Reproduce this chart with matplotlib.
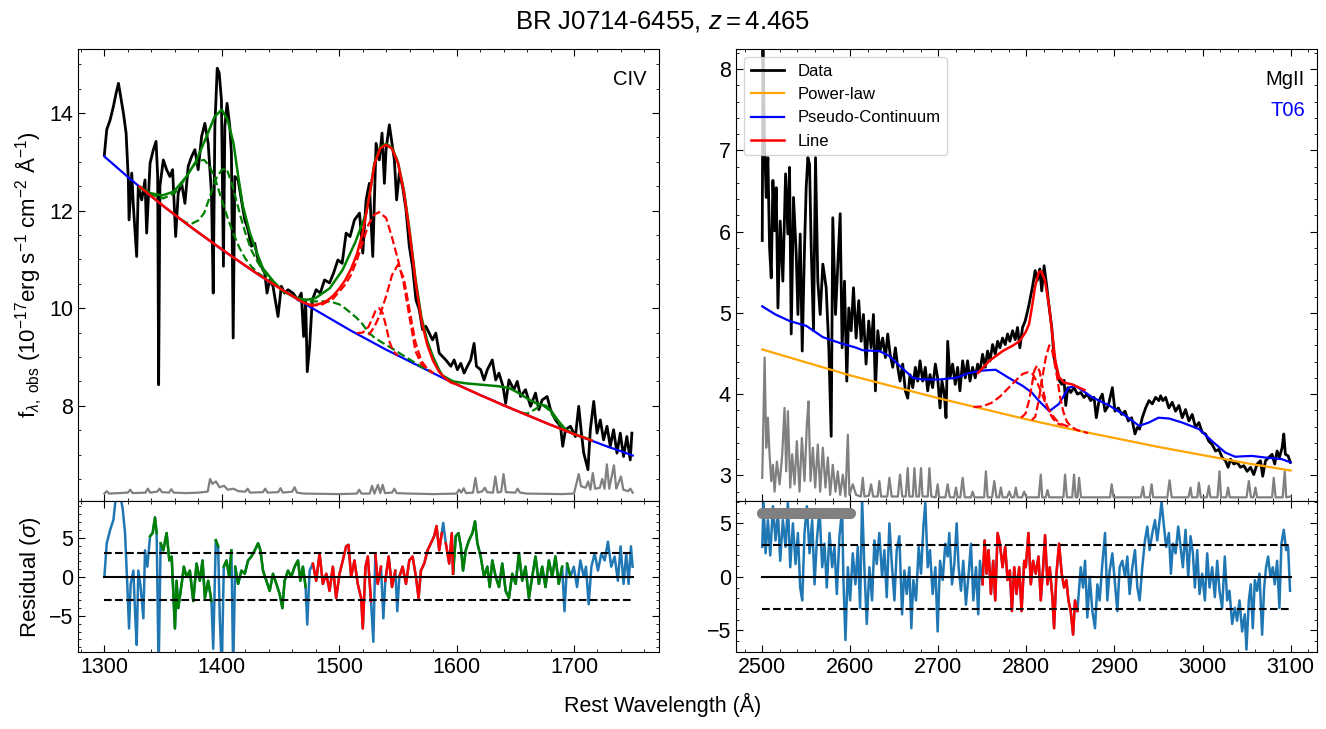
import numpy as np
import matplotlib
matplotlib.use('Agg')
import matplotlib.pyplot as plt

plt.rcParams['font.family'] = ['Liberation Sans', 'DejaVu Sans']
plt.rcParams['mathtext.fontset'] = 'custom'
plt.rcParams['mathtext.rm'] = 'Liberation Sans'
plt.rcParams['mathtext.it'] = 'Liberation Sans:italic'
plt.rcParams['mathtext.bf'] = 'Liberation Sans:bold'
plt.rcParams['xtick.direction'] = 'in'
plt.rcParams['ytick.direction'] = 'in'
plt.rcParams['xtick.top'] = True
plt.rcParams['ytick.right'] = True
plt.rcParams['xtick.minor.visible'] = True
plt.rcParams['ytick.minor.visible'] = True
plt.rcParams['xtick.major.size'] = 5
plt.rcParams['ytick.major.size'] = 5
plt.rcParams['xtick.minor.size'] = 2.5
plt.rcParams['ytick.minor.size'] = 2.5
plt.rcParams['xtick.labelsize'] = 15.5
plt.rcParams['ytick.labelsize'] = 15.5

#---------------- CIV window: data ----------------
civ_wave = [1300.0, 1302.0, 1304.9, 1307.7, 1310.0, 1312.0, 1313.9, 1316.2, 1318.5, 1320.4, 1321.0, 1323.3, 1324.7, 1327.5,
            1328.9, 1331.8, 1334.6, 1336.0, 1338.9, 1341.7, 1344.0, 1345.4, 1346.2, 1347.3, 1350.2, 1353.0, 1355.8, 1358.1,
            1360.7, 1362.9, 1365.8, 1368.6, 1371.4, 1374.3, 1377.1, 1379.9, 1382.8, 1385.6, 1388.4, 1391.2, 1392.7, 1394.1,
            1396.1, 1397.8, 1399.7, 1401.4, 1402.6, 1404.5, 1406.8, 1408.2, 1409.7, 1411.1, 1413.9, 1416.7, 1419.6, 1422.4,
            1425.2, 1428.1, 1430.9, 1433.7, 1436.6, 1438.5, 1440.8, 1443.6, 1447.9, 1450.7, 1453.5, 1456.4, 1460.6, 1464.9,
            1467.7, 1469.7, 1471.4, 1472.8, 1474.8, 1477.1, 1480.4, 1483.9, 1487.5, 1491.8, 1495.2, 1498.9, 1502.5, 1505.9,
            1509.3, 1513.0, 1517.3, 1520.1, 1522.9, 1525.7, 1528.6, 1531.4, 1534.2, 1536.5, 1538.5, 1539.9, 1542.7, 1545.0,
            1547.0, 1548.9, 1551.2, 1554.0, 1556.9, 1559.7, 1562.5, 1565.4, 1568.2, 1571.0, 1573.8, 1576.7, 1579.5, 1582.3,
            1585.2, 1588.0, 1590.8, 1595.1, 1597.9, 1600.7, 1603.6, 1606.4, 1609.2, 1612.0, 1614.9, 1616.9, 1620.5, 1623.4,
            1626.2, 1630.4, 1633.3, 1636.1, 1639.5, 1641.8, 1644.6, 1648.8, 1651.7, 1654.5, 1658.7, 1663.0, 1667.2, 1670.1,
            1672.9, 1677.1, 1680.0, 1684.2, 1688.5, 1690.4, 1692.7, 1697.0, 1701.2, 1704.0, 1706.3, 1708.3, 1711.9, 1713.9,
            1716.8, 1719.6, 1722.4, 1725.2, 1728.1, 1730.9, 1733.7, 1736.6, 1739.4, 1742.2, 1745.0, 1747.9, 1749.3]
civ_flux = [13.15, 13.66, 13.86, 14.14, 14.41, 14.61, 14.34, 14.0, 13.59, 12.63, 11.81, 12.77, 12.09, 11.06,
            12.5, 12.22, 12.63, 11.54, 12.97, 13.25, 13.42, 12.70, 8.43, 12.5, 13.04, 12.84, 12.7, 12.84,
            11.47, 12.36, 12.56, 12.15, 12.91, 13.11, 13.25, 12.84, 13.52, 13.79, 13.38, 12.36, 10.31, 13.73,
            14.92, 14.82, 14.27, 10.86, 13.73, 14.2, 13.73, 13.18, 9.39, 12.70, 12.63, 12.22, 11.81, 11.61,
            11.27, 11.33, 10.99, 10.86, 10.72, 10.31, 10.58, 10.45, 9.83, 10.45, 10.31, 10.38, 10.31, 10.17,
            10.31, 9.42, 10.17, 8.70, 9.22, 10.17, 10.38, 10.31, 10.58, 10.52, 10.72, 10.99, 10.92, 11.54,
            11.47, 11.81, 11.95, 11.13, 12.22, 12.56, 11.06, 13.38, 13.04, 13.59, 12.56, 13.25, 13.76, 13.38,
            13.04, 12.22, 12.77, 12.49, 12.02, 11.27, 10.85, 10.17, 9.97, 9.56, 9.63, 9.49, 9.35, 9.49,
            9.08, 9.01, 8.94, 8.81, 8.94, 8.74, 8.87, 8.67, 8.81, 8.94, 9.28, 8.81, 8.74, 8.53,
            8.74, 8.94, 8.53, 8.67, 8.4, 8.05, 8.53, 8.33, 8.5, 8.19, 8.33, 7.99, 8.26, 7.92,
            8.12, 8.19, 7.92, 7.71, 7.58, 7.17, 7.51, 7.58, 7.37, 7.99, 7.44, 7.03, 6.69, 7.51,
            8.09, 7.44, 7.71, 7.3, 7.58, 7.17, 7.51, 7.03, 7.44, 6.96, 7.37, 6.89, 7.44]

civ_err_wave = [1300, 1302, 1304, 1320, 1322, 1324, 1335, 1337, 1339, 1345, 1347, 1349, 1355, 1357, 1359, 1370, 1380,
                1388, 1390, 1392, 1395, 1398, 1402, 1405, 1410, 1414, 1420, 1422, 1424, 1435, 1437, 1439, 1448, 1450,
                1452, 1460, 1462, 1464, 1470, 1500, 1515, 1517, 1519, 1526, 1528, 1530, 1533, 1535, 1537, 1539, 1545,
                1547, 1549, 1560, 1580, 1600, 1602, 1604, 1606, 1608, 1614, 1616, 1618, 1622, 1624, 1626, 1631, 1633,
                1635, 1638, 1640, 1642, 1650, 1652, 1654, 1660, 1690, 1700, 1702, 1704, 1706, 1710, 1712, 1714, 1716,
                1718, 1722, 1724, 1726, 1728, 1730, 1734, 1736, 1740, 1742, 1746, 1748, 1750]
civ_err = [6.20, 6.25, 6.20, 6.22, 6.28, 6.21, 6.22, 6.30, 6.22, 6.24, 6.30, 6.23, 6.22, 6.29, 6.22, 6.21, 6.22,
           6.24, 6.50, 6.40, 6.45, 6.33, 6.36, 6.28, 6.30, 6.25, 6.24, 6.30, 6.22, 6.23, 6.30, 6.22, 6.23, 6.31,
           6.22, 6.24, 6.33, 6.22, 6.20, 6.19, 6.20, 6.28, 6.20, 6.20, 6.36, 6.20, 6.38, 6.21, 6.38, 6.21, 6.22,
           6.30, 6.21, 6.20, 6.19, 6.20, 6.28, 6.22, 6.31, 6.21, 6.22, 6.52, 6.22, 6.25, 6.32, 6.23, 6.22, 6.55,
           6.22, 6.24, 6.60, 6.23, 6.22, 6.30, 6.22, 6.20, 6.19, 6.20, 6.40, 6.60, 6.35, 6.32, 6.45, 6.28, 6.62,
           6.30, 6.32, 6.50, 6.30, 6.80, 6.30, 6.78, 6.30, 6.55, 6.28, 6.25, 6.30, 6.22]

#---------------- CIV window: model ----------------
civ_cont_wave = list(range(1300, 1751, 10))
civ_cont = [13.11, 12.90, 12.69, 12.49, 12.29, 12.10, 11.91, 11.73, 11.55, 11.38, 11.20, 11.04, 10.87, 10.71,
            10.55, 10.40, 10.25, 10.10, 9.96, 9.82, 9.68, 9.54, 9.41, 9.28, 9.15, 9.03, 8.91, 8.79, 8.67, 8.55,
            8.44, 8.33, 8.22, 8.12, 8.01, 7.91, 7.81, 7.71, 7.61, 7.52, 7.42, 7.33, 7.24, 7.15, 7.07, 6.98]

civ_line_wave = [1330, 1350, 1370, 1390, 1410, 1430, 1450, 1465, 1470, 1475, 1480, 1485, 1490, 1495, 1500, 1505,
                 1510, 1515, 1520, 1525, 1530, 1535, 1540, 1545, 1550, 1555, 1560, 1565, 1570, 1575, 1580, 1585,
                 1590, 1595, 1600, 1620, 1640, 1660, 1680, 1700, 1715]
civ_line = [12.49, 12.10, 11.73, 11.38, 11.04, 10.71, 10.40, 10.18, 10.11, 10.07, 10.07, 10.10, 10.16, 10.26, 10.40,
            10.57, 10.80, 11.10, 11.55, 12.20, 12.95, 13.28, 13.35, 13.27, 12.98, 12.40, 11.55, 10.55, 9.75, 9.25,
            8.92, 8.70, 8.57, 8.48, 8.44, 8.22, 8.01, 7.81, 7.61, 7.42, 7.29]

civ_all_wave = [1330, 1339, 1349, 1359, 1370, 1378, 1387, 1394, 1400, 1405, 1410, 1414, 1418, 1424, 1430, 1435,
                1444, 1452, 1464, 1472, 1480, 1492, 1503, 1514, 1523, 1527, 1530, 1535, 1540, 1545, 1550, 1555,
                1560, 1565, 1570, 1575, 1580, 1585, 1588, 1597, 1608, 1622, 1636, 1645, 1653, 1662, 1669, 1676,
                1681, 1687, 1693, 1701, 1710, 1715]
civ_all = [12.46, 12.36, 12.31, 12.39, 12.70, 13.01, 13.52, 13.93, 14.07, 13.86, 13.38, 12.70, 12.09, 11.54, 11.13,
           10.82, 10.55, 10.35, 10.21, 10.17, 10.21, 10.41, 10.79, 11.37, 11.95, 12.50, 12.98, 13.30, 13.37, 13.29,
           13.00, 12.43, 11.59, 10.60, 9.82, 9.33, 9.00, 8.74, 8.62, 8.50, 8.46, 8.43, 8.40, 8.36, 8.26, 8.12,
           8.04, 8.00, 7.88, 7.68, 7.51, 7.41, 7.34, 7.29]

# other-line components (green dashed)
siiv1_wave = [1330, 1340, 1350, 1360, 1365, 1370, 1375, 1380, 1385, 1390, 1395, 1400, 1405, 1410, 1415, 1420,
              1425, 1430, 1440]
siiv1 = [12.50, 12.33, 12.25, 12.36, 12.52, 12.70, 12.90, 13.02, 13.04, 12.90, 12.60, 12.22, 11.85, 11.52, 11.24,
         11.02, 10.86, 10.74, 10.56]
siiv2_wave = [1365, 1370, 1375, 1380, 1385, 1390, 1395, 1400, 1404, 1408, 1412, 1416, 1420, 1425, 1430, 1435,
              1440, 1450]
siiv2 = [11.82, 11.75, 11.74, 11.80, 11.95, 12.30, 12.65, 12.84, 12.86, 12.60, 12.25, 11.88, 11.55, 11.20, 10.97,
         10.77, 10.62, 10.41]
nv_wave = [1465, 1475, 1485, 1492, 1500, 1505, 1510, 1515, 1520, 1525, 1530, 1535, 1542, 1550, 1560, 1570, 1580]
nv = [10.18, 10.14, 10.14, 10.14, 10.08, 10.00, 9.90, 9.80, 9.67, 9.50, 9.40, 9.32, 9.22, 9.10, 8.95, 8.80, 8.68]
heii_wave = [1655, 1660, 1665, 1670, 1674, 1678, 1682, 1686, 1690, 1695, 1700]
heii = [7.86, 7.84, 7.90, 7.98, 8.00, 7.93, 7.80, 7.68, 7.56, 7.48, 7.42]

# CIV components (red dashed)
civ_br_wave = [1475, 1485, 1495, 1505, 1510, 1515, 1520, 1525, 1530, 1534, 1540, 1545, 1550, 1555, 1560, 1565,
               1570, 1575, 1580]
civ_br = [10.05, 10.07, 10.20, 10.48, 10.68, 10.98, 11.35, 11.72, 11.92, 11.97, 11.85, 11.45, 11.00, 10.50, 9.80,
          9.12, 8.85, 8.76, 8.67]
civ_n1_wave = [1515, 1520, 1525, 1528, 1531, 1534, 1537, 1540, 1543, 1546, 1550]
civ_n1 = [9.49, 9.50, 9.62, 9.78, 9.95, 10.00, 9.90, 9.62, 9.30, 9.12, 9.03]
civ_n2_wave = [1525, 1530, 1535, 1540, 1545, 1550, 1555, 1560, 1565, 1570, 1575, 1580]
civ_n2 = [9.45, 9.62, 9.88, 10.25, 10.68, 10.89, 10.62, 9.95, 9.30, 8.92, 8.76, 8.67]

civ_res_wave = [1300.0, 1302.0, 1304.9, 1307.7, 1310.0, 1313.4, 1315.6, 1317.6, 1319.6, 1321.0, 1322.4, 1324.7,
                1326.1, 1327.5, 1328.9, 1330.9, 1333.2, 1334.6, 1336.6, 1338.9, 1341.1, 1343.1, 1344.5, 1346.2,
                1347.9, 1350.2, 1353.0, 1355.3, 1357.3, 1360.1, 1361.5, 1362.9, 1365.8, 1367.7, 1370.0, 1372.8,
                1375.7, 1378.5, 1381.3, 1383.6, 1385.6, 1388.4, 1391.2, 1392.7, 1394.9, 1396.9, 1398.3, 1400.0,
                1401.7, 1404.0, 1406.3, 1408.2, 1409.7, 1411.4, 1413.9, 1416.7, 1419.6, 1422.4, 1425.2, 1428.1,
                1430.9, 1432.9, 1435.1, 1438.0, 1440.8, 1443.6, 1446.5, 1449.3, 1451.6, 1453.5, 1456.4, 1459.2,
                1462.0, 1464.9, 1466.9, 1469.1, 1471.4, 1472.8, 1474.8, 1477.6, 1480.4, 1483.3, 1486.1, 1489.0,
                1491.8, 1494.6, 1497.4, 1500.3, 1503.1, 1505.9, 1507.9, 1510.2, 1513.0, 1515.8, 1518.7, 1520.1,
                1522.4, 1524.4, 1527.1, 1529.1, 1530.8, 1532.8, 1535.6, 1537.6, 1539.3, 1542.1, 1545.0, 1547.8,
                1549.5, 1551.2, 1554.0, 1556.9, 1559.7, 1562.5, 1565.4, 1567.6, 1569.6, 1572.4, 1575.3, 1578.1,
                1580.9, 1582.9, 1585.2, 1587.4, 1588.6, 1590.8, 1593.7, 1595.9, 1597.0, 1599.3, 1601.6, 1603.6,
                1605.5, 1607.8, 1610.6, 1613.5, 1615.7, 1617.7, 1620.5, 1623.4, 1626.2, 1628.2, 1630.4, 1633.3,
                1636.1, 1638.9, 1641.8, 1644.6, 1647.4, 1650.3, 1653.1, 1655.9, 1658.7, 1661.6, 1664.4, 1667.2,
                1670.1, 1672.9, 1675.7, 1678.6, 1681.4, 1684.2, 1687.0, 1689.9, 1691.9, 1694.1, 1697.0, 1699.8,
                1702.6, 1705.4, 1708.3, 1710.2, 1712.5, 1714.8, 1717.6, 1720.4, 1723.3, 1726.1, 1728.9, 1731.7,
                1734.6, 1737.4, 1739.7, 1742.2, 1744.5, 1746.5, 1748.5, 1749.9]
civ_res = [0.0, 4.3, 6.0, 7.3, 10.5, 10.5, 8.7, 5.6, -1.3, -6.6, -0.9, 0.8,
           -4.4, -8.7, 0.8, -1.3, -5.3, 3.4, 1.3, 5.2, 5.6, 7.6, 5.6, -12.0,
           4.3, 3.4, 5.6, 2.1, 2.6, -6.6, -0.5, -4.0, -0.9, 1.3, 0.0, 0.8,
           -3.1, 1.7, -0.5, 2.1, -2.7, -0.5, -3.1, -9.2, 4.7, 3.9, -5.3, -12.0,
           1.3, 2.1, 0.0, 3.4, -12.0, 1.3, -0.9, 0.8, 0.4, 2.1, 2.6, 3.4,
           4.3, 3.4, 0.8, -0.5, -1.8, 0.4, -0.9, -2.2, -4.0, -0.5, 0.8, 0.0,
           1.3, 2.1, -0.5, 1.3, -1.3, -6.1, 0.8, 1.7, -0.5, 3.0, -0.9, 0.4,
           -1.8, 1.3, -2.7, 0.4, 2.1, 3.9, 4.1, 0.0, 2.1, -0.9, -2.7, -6.6,
           1.3, 2.6, -3.1, -8.3, 3.0, -0.9, 1.3, -5.3, -0.5, 2.6, -1.3, 0.8,
           -4.4, 0.0, 1.3, -0.9, 2.1, 2.6, 0.0, -2.7, 0.8, 1.7, 3.4, 4.3,
           5.2, 6.5, 3.4, 5.6, 6.9, 4.3, 1.7, 5.6, 0.4, 5.2, 5.6, 3.9,
           0.8, 3.4, 4.7, 5.6, 7.1, 4.3, 2.6, 0.0, 1.3, -1.3, 2.1, 0.0,
           -1.3, 1.7, -1.8, -2.7, 0.4, -0.9, 3.0, -0.5, 1.3, -2.7, 0.0, 2.6,
           -0.9, 1.3, -1.3, 2.1, 0.0, 2.6, -0.9, 1.3, -4.4, 1.7, 0.0, 1.3,
           -1.3, 2.1, 0.0, 1.3, -3.5, 1.3, 3.0, 0.8, 3.0, 2.1, 4.5, 1.3,
           2.6, -0.5, 3.9, -0.9, 3.0, -0.9, 3.9, 1.3]
civ_green_win = [(1337, 1475), (1597, 1697)]
civ_red_win = [(1475, 1597)]
civ_res_skip = [1346.2, 1392.7, 1398.3, 1400.0, 1409.7, 1472.8, 1529.1, 1537.6, 1549.5, 1588.6, 1691.9]

#---------------- MgII window: data ----------------
mg_wave = [2500.0, 2500.8, 2502.7, 2504.5, 2506.4, 2508.3, 2510.2, 2512.1, 2514.0, 2515.9, 2517.8, 2520.4, 2523.4,
           2526.5, 2529.1, 2531.0, 2532.9, 2535.5, 2538.6, 2540.5, 2543.1, 2545.4, 2548.0, 2549.9, 2551.8, 2553.7,
           2555.6, 2558.2, 2560.5, 2563.1, 2565.8, 2568.8, 2572.6, 2575.6, 2578.3, 2580.1, 2583.2, 2585.8, 2588.5,
           2590.7, 2593.4, 2596.0, 2598.3, 2601.0, 2603.6, 2606.6, 2609.6, 2612.3, 2614.9, 2617.9, 2620.9, 2623.6,
           2626.3, 2628.5, 2631.2, 2633.8, 2636.8, 2639.9, 2642.5, 2645.2, 2648.2, 2651.2, 2653.9, 2656.5, 2659.5,
           2662.5, 2665.2, 2667.8, 2670.9, 2673.9, 2676.5, 2679.2, 2682.2, 2685.2, 2687.9, 2690.5, 2693.5, 2696.6,
           2699.2, 2701.9, 2704.1, 2706.8, 2708.7, 2710.6, 2713.2, 2716.2, 2719.2, 2721.9, 2724.5, 2727.6, 2730.6,
           2733.2, 2735.9, 2738.9, 2741.9, 2744.6, 2747.2, 2750.2, 2753.3, 2755.9, 2758.6, 2761.6, 2764.6, 2767.3,
           2769.9, 2772.9, 2775.9, 2778.6, 2781.2, 2784.3, 2787.3, 2789.9, 2792.6, 2795.6, 2798.6, 2801.3, 2803.1,
           2806.9, 2809.9, 2812.5, 2815.2, 2817.4, 2820.1, 2822.7, 2825.8, 2828.8, 2831.4, 2834.1, 2837.1, 2840.1,
           2842.8, 2844.7, 2847.0, 2850.3, 2854.1, 2857.9, 2861.7, 2865.4, 2869.2, 2873.0, 2876.8, 2879.4, 2882.5,
           2886.2, 2889.3, 2893.0, 2897.6, 2900.6, 2904.4, 2908.2, 2912.0, 2915.7, 2919.5, 2923.3, 2926.0, 2928.6,
           2931.6, 2935.4, 2939.2, 2943.0, 2946.7, 2950.5, 2952.4, 2955.0, 2958.1, 2961.8, 2965.6, 2969.4, 2973.2,
           2977.0, 2980.7, 2984.5, 2988.3, 2992.1, 2995.9, 2999.6, 3003.4, 3007.2, 3011.0, 3014.8, 3018.5, 3022.3,
           3026.1, 3029.1, 3031.8, 3035.6, 3039.3, 3043.1, 3046.9, 3050.7, 3054.5, 3058.2, 3062.0, 3065.8, 3068.4,
           3071.5, 3075.2, 3079.0, 3082.0, 3084.7, 3087.3, 3090.4, 3092.3, 3094.1, 3097.2, 3099.8]
mg_flux = [5.89, 8.23, 7.04, 6.42, 6.91, 5.80, 5.43, 6.63, 6.01, 6.54, 5.06, 6.13, 5.39,
           6.71, 5.97, 6.79, 4.74, 6.42, 5.72, 4.98, 5.97, 4.53, 5.80, 6.54, 6.91, 6.83,
           5.80, 4.78, 6.91, 5.39, 4.98, 5.60, 5.31, 4.57, 3.48, 6.17, 4.98, 5.60, 6.22,
           4.57, 5.39, 4.16, 5.06, 4.78, 5.31, 4.69, 5.15, 4.65, 4.98, 4.37, 4.90, 4.57,
           4.98, 4.04, 4.78, 4.53, 4.69, 4.45, 4.74, 4.49, 4.33, 4.57, 4.33, 4.16, 4.37,
           4.04, 3.95, 4.24, 4.08, 4.33, 4.16, 4.41, 4.16, 4.33, 4.04, 4.24, 4.08, 4.37,
           4.20, 3.83, 4.16, 4.00, 3.71, 4.65, 4.20, 4.37, 4.12, 4.33, 4.04, 4.41, 4.20,
           4.41, 4.16, 4.33, 4.20, 4.37, 4.28, 4.49, 4.33, 4.53, 4.41, 4.61, 4.49, 4.65,
           4.57, 4.69, 4.61, 4.74, 4.65, 4.78, 4.67, 4.82, 4.57, 4.82, 4.90, 5.02, 5.11,
           5.32, 5.52, 5.40, 5.54, 5.27, 5.58, 5.36, 5.07, 4.82, 4.45, 4.33, 4.17, 4.12,
           4.17, 3.86, 4.08, 4.02, 4.08, 4.00, 4.02, 3.96, 4.00, 3.92, 3.96, 3.71, 3.92,
           4.00, 3.79, 3.86, 4.08, 3.79, 3.83, 3.75, 3.79, 3.67, 3.71, 3.51, 3.59, 3.57,
           3.71, 3.83, 3.92, 3.88, 3.96, 3.92, 3.98, 3.92, 3.96, 3.83, 3.90, 3.79, 3.86,
           3.71, 3.81, 3.67, 3.75, 3.59, 3.65, 3.53, 3.51, 3.42, 3.38, 3.30, 3.32, 3.22,
           3.18, 3.10, 3.20, 3.14, 3.16, 3.10, 3.12, 3.05, 3.10, 3.01, 3.14, 3.18, 2.99,
           3.18, 3.22, 3.26, 3.14, 3.30, 3.22, 3.34, 3.51, 3.26, 3.24, 3.16]

mg_err_wave = [2500, 2502.7, 2504.5, 2506.4, 2508.3, 2510.2, 2512.1, 2514.0, 2516.6, 2519.7, 2522.7, 2525.3, 2527.2,
               2529.1, 2531.8, 2534.0, 2536.7, 2539.3, 2542.3, 2545.0, 2548.0, 2550.7, 2552.5, 2554.8, 2557.5, 2560.1,
               2563.1, 2565.8, 2568.8, 2571.8, 2574.5, 2577.1, 2580.1, 2583.2, 2585.8, 2588.5, 2591.5, 2594.5, 2597.2,
               2599.0, 2602.8, 2606.6, 2612, 2614.2, 2616, 2621, 2623.6, 2626, 2631, 2633.0, 2635, 2642, 2644.4, 2647,
               2654, 2656.5, 2659, 2663, 2665.2, 2667, 2671, 2672.8, 2675, 2678, 2680.3, 2682, 2688, 2689.8, 2692,
               2697, 2699.2, 2701, 2708, 2710.6, 2713, 2718, 2720, 2722, 2725, 2727.6, 2730, 2737, 2738.9, 2741, 2752,
               2754, 2756, 2761, 2763.5, 2766, 2769, 2771, 2773, 2778, 2780.5, 2783, 2786, 2788, 2790, 2795, 2797.5,
               2800, 2814, 2816.3, 2818, 2822, 2824, 2826, 2842, 2843.9, 2846, 2852, 2854.1, 2856, 2858, 2859.8, 2862,
               2895, 2896.8, 2899, 2930, 2932.4, 2934, 2940, 2942.2, 2944, 2960, 2962.6, 2965, 2984, 2986.4, 2988,
               2994, 2995.9, 2998, 3005, 3007.2, 3009, 3017, 3019.3, 3021, 3027, 3029.1, 3031, 3050, 3052.6, 3055,
               3058, 3060.1, 3062, 3079, 3080.9, 3083, 3091, 3093.4, 3095, 3100]
mg_err = [2.97, 4.45, 3.34, 3.71, 3.26, 2.93, 3.13, 2.80, 3.17, 2.89, 3.26, 3.83, 3.05,
          3.79, 2.85, 3.26, 2.89, 3.42, 2.80, 3.46, 2.93, 3.63, 3.91, 2.93, 3.34, 2.85,
          3.38, 2.80, 3.34, 2.85, 3.22, 2.76, 3.13, 2.80, 3.05, 2.76, 3.01, 2.74, 3.50,
          2.76, 2.89, 2.76, 2.74, 2.97, 2.74, 2.75, 2.89, 2.74, 2.74, 2.93, 2.74, 2.74, 2.97, 2.74,
          2.74, 3.01, 2.74, 2.74, 3.09, 2.74, 2.74, 3.09, 2.74, 2.74, 3.09, 2.74, 2.74, 3.09, 2.74,
          2.73, 2.89, 2.73, 2.73, 2.89, 2.73, 2.73, 2.85, 2.73, 2.73, 2.97, 2.73, 2.73, 2.80, 2.73, 2.73,
          3.05, 2.73, 2.73, 2.93, 2.73, 2.73, 2.85, 2.73, 2.73, 2.80, 2.73, 2.73, 2.85, 2.73, 2.73, 2.80,
          2.73, 2.73, 3.01, 2.73, 2.73, 2.82, 2.73, 2.73, 3.01, 2.73, 2.73, 3.01, 2.73, 2.73, 2.97, 2.73,
          2.73, 2.89, 2.73, 2.73, 2.86, 2.73, 2.73, 2.89, 2.73, 2.73, 2.94, 2.73, 2.73, 2.85, 2.73,
          2.73, 2.91, 2.73, 2.73, 2.87, 2.73, 2.73, 3.05, 2.73, 2.73, 2.85, 2.73, 2.73, 2.93, 2.73,
          2.73, 2.85, 2.73, 2.73, 2.97, 2.73, 2.73, 3.05, 2.73, 2.74]

#---------------- MgII window: model ----------------
mg_pl_wave = list(range(2500, 3101, 50))
mg_pl = [4.55, 4.39, 4.23, 4.09, 3.95, 3.82, 3.69, 3.57, 3.46, 3.35, 3.25, 3.15, 3.06]

mg_pseudo_wave = [2500, 2515, 2531, 2550, 2569, 2588, 2607, 2614, 2633, 2644, 2652, 2660, 2671, 2682, 2701, 2720,
                  2735, 2750, 2765, 2780, 2796, 2806, 2814, 2826, 2837, 2848, 2856, 2875, 2894, 2913, 2928, 2939,
                  2950, 2962, 2977, 2996, 3011, 3026, 3037, 3056, 3071, 3090, 3100]
mg_pseudo = [5.08, 4.98, 4.90, 4.84, 4.70, 4.63, 4.57, 4.54, 4.53, 4.47, 4.39, 4.31, 4.20, 4.18, 4.18, 4.20,
             4.26, 4.29, 4.30, 4.20, 4.10, 4.02, 3.92, 3.79, 3.88, 4.08, 4.10, 3.96, 3.86, 3.73, 3.61, 3.65,
             3.71, 3.70, 3.65, 3.57, 3.42, 3.28, 3.23, 3.24, 3.22, 3.20, 3.16]

mg_line_wave = [2745, 2758, 2773, 2785, 2792, 2799, 2803, 2806, 2810, 2814, 2817, 2821, 2826, 2830, 2833, 2837,
                2843, 2852, 2860, 2866]
mg_line = [4.26, 4.41, 4.53, 4.60, 4.65, 4.76, 4.86, 5.05, 5.33, 5.50, 5.51, 5.40, 5.07, 4.68, 4.40, 4.21,
           4.14, 4.12, 4.08, 4.05]

mg_br_wave = [2740, 2750, 2760, 2770, 2780, 2790, 2796, 2802, 2807, 2812, 2817, 2822, 2828, 2834, 2840, 2848]
mg_br = [3.84, 3.85, 3.89, 3.97, 4.08, 4.19, 4.25, 4.27, 4.25, 4.15, 4.02, 3.88, 3.76, 3.68, 3.63, 3.60]
mg_n1_wave = [2794, 2799, 2803, 2806, 2809, 2812, 2815, 2818, 2822, 2826, 2830, 2835, 2840]
mg_n1 = [3.71, 3.76, 3.92, 4.10, 4.29, 4.35, 4.28, 4.10, 3.90, 3.78, 3.70, 3.64, 3.62]
mg_n2_wave = [2806, 2810, 2814, 2818, 2822, 2826, 2829, 2832, 2835, 2838, 2842, 2846, 2851, 2857, 2864, 2870]
mg_n2 = [3.68, 3.72, 3.92, 4.20, 4.45, 4.60, 4.55, 4.38, 4.20, 3.98, 3.78, 3.66, 3.60, 3.56, 3.54, 3.52]

mg_res_wave = [2500.0, 2501.5, 2503.8, 2506.4, 2509.1, 2512.1, 2515.1, 2517.8, 2520.4, 2523.4, 2526.5, 2529.1,
               2531.8, 2534.8, 2537.8, 2540.5, 2543.1, 2545.4, 2548.0, 2550.7, 2553.7, 2556.7, 2559.4, 2562.0,
               2565.0, 2568.1, 2570.7, 2573.3, 2576.4, 2579.4, 2582.0, 2584.7, 2587.7, 2590.7, 2592.2, 2594.5,
               2597.2, 2599.8, 2602.8, 2605.8, 2608.5, 2611.1, 2613.4, 2616.1, 2618.7, 2621.7, 2624.7, 2627.4,
               2630.0, 2633.0, 2636.1, 2638.7, 2641.4, 2644.4, 2647.4, 2650.1, 2652.7, 2655.7, 2658.8, 2661.4,
               2664.1, 2667.1, 2669.3, 2671.6, 2674.6, 2677.7, 2680.3, 2683.0, 2685.2, 2687.9, 2690.5, 2693.5,
               2696.6, 2699.2, 2701.9, 2704.9, 2707.9, 2710.6, 2712.4, 2715.5, 2718.1, 2720.8, 2723.0, 2725.7,
               2728.3, 2731.3, 2734.4, 2737.0, 2739.7, 2742.7, 2745.3, 2747.2, 2750.2, 2752.5, 2754.8, 2757.0,
               2759.7, 2762.3, 2764.6, 2767.3, 2769.9, 2772.9, 2775.9, 2778.6, 2781.2, 2783.5, 2786.2, 2788.8,
               2791.8, 2794.5, 2797.5, 2799.3, 2802.3, 2805.0, 2807.6, 2810.6, 2813.7, 2816.3, 2819.0, 2821.2,
               2823.9, 2826.5, 2829.5, 2831.4, 2834.1, 2837.1, 2840.1, 2842.8, 2845.4, 2847.7, 2850.3, 2853.0,
               2855.2, 2857.9, 2861.7, 2864.3, 2866.6, 2869.2, 2871.9, 2874.9, 2877.9, 2880.6, 2883.2, 2886.2,
               2889.3, 2891.9, 2894.6, 2897.6, 2900.6, 2903.3, 2905.9, 2908.9, 2912.0, 2914.6, 2917.2, 2920.3,
               2923.3, 2926.0, 2928.6, 2931.6, 2934.6, 2937.3, 2939.9, 2943.0, 2946.0, 2948.6, 2951.3, 2953.5,
               2956.2, 2958.8, 2961.8, 2964.1, 2966.4, 2969.4, 2972.4, 2975.1, 2977.7, 2980.7, 2983.8, 2986.4,
               2989.1, 2991.3, 2994.0, 2996.6, 2999.6, 3002.7, 3005.3, 3008.0, 3011.0, 3014.0, 3016.7, 3019.3,
               3022.3, 3025.3, 3028.0, 3030.6, 3033.7, 3036.7, 3039.3, 3042.0, 3045.0, 3048.0, 3049.9, 3052.6,
               3054.8, 3057.1, 3059.4, 3062.0, 3064.7, 3067.7, 3070.0, 3072.2, 3074.5, 3077.1, 3079.8, 3082.0,
               3084.7, 3087.3, 3089.6, 3092.3, 3094.9, 3097.2, 3099.4]
mg_res = [2.8, 6.9, 2.2, 5.3, 2.0, 6.6, 3.4, 6.0, 1.5, 5.3, 2.8, 6.9,
          0.9, 5.0, 1.2, 4.1, -1.0, -2.2, 4.1, 6.6, 2.2, 5.3, -0.7, 3.4,
          6.3, 0.9, 3.1, -1.0, 4.1, 0.9, 2.8, -1.6, 3.8, 6.3, -0.3, -5.9,
          0.9, -2.2, 2.2, -0.7, 2.8, -2.9, 7.2, 0.6, -4.4, 0.9, -2.2, 3.4,
          1.2, 4.1, 0.0, 2.5, -1.9, 5.0, 0.9, -2.2, 2.5, 3.8, -3.5, 0.6,
          -1.6, 0.9, -4.8, -0.3, -2.2, 2.8, 0.3, 4.7, 6.9, 0.9, 2.5, -1.6,
          0.9, -5.1, 1.5, -0.3, 3.1, 1.9, 4.1, -0.7, 1.2, 5.0, 0.9, -1.3,
          1.5, -2.6, 0.3, 3.1, -2.2, 0.9, -3.5, 1.5, -0.7, 3.4, 0.3, 2.5,
          -1.6, 1.5, -2.2, 4.1, 3.1, 0.9, 2.8, -0.3, 0.6, -3.2, 0.9, -1.6,
          0.9, -3.2, 1.5, 0.9, 4.1, -0.7, 1.5, 0.3, 1.9, -2.2, 0.9, 3.9,
          -0.7, 0.9, -1.9, -4.8, 0.3, 3.1, 0.3, -1.0, -0.3, -2.2, -3.2, -5.4,
          -2.2, -3.2, 0.9, -1.0, 1.5, -3.8, 0.0, -3.2, -4.8, -0.7, -2.2, 1.2,
          4.1, -2.2, 0.6, 2.2, -0.7, -3.2, 0.9, 1.5, 0.0, 1.9, -1.6, 0.9,
          2.5, -1.0, -2.2, 0.9, 3.4, 4.7, 2.5, 4.1, 5.3, 3.4, 5.3, 7.0,
          4.7, 2.8, 4.1, 0.3, 3.1, 2.2, 4.7, 2.8, 0.9, 4.4, 0.0, 3.8,
          2.2, -1.0, 2.5, -1.6, 0.3, -2.2, 2.2, -1.0, 0.9, -1.9, 1.5, -1.3,
          -2.9, 1.9, -2.2, -1.3, -4.4, -2.9, -4.1, -2.2, -5.1, -3.5, -6.8, -2.2,
          -0.7, -4.8, -0.3, -1.3, 0.3, -5.4, -1.0, 0.9, 1.9, 0.0, 0.9, -0.7,
          1.5, -2.9, 3.1, 4.4, 2.5, 2.8, -1.3]
mg_red_win = [(2748, 2859)]
mg_masked_end = 2601

#---------------- figure ----------------
fig = plt.figure(figsize=(13.26, 7.29), dpi=100)
gs = fig.add_gridspec(2, 2, height_ratios=[3, 1], hspace=0, wspace=0.132,
                      left=0.0588, right=0.9932, top=0.9332, bottom=0.1052)
ax1 = fig.add_subplot(gs[0, 0])
ax2 = fig.add_subplot(gs[1, 0], sharex=ax1)
ax3 = fig.add_subplot(gs[0, 1])
ax4 = fig.add_subplot(gs[1, 1], sharex=ax3)

def window_series(wave, val, wins, skip=()):
    wave = np.asarray(wave)
    out = np.full(len(val), np.nan)
    for lo, hi in wins:
        sel = (wave >= lo) & (wave <= hi)
        out[sel] = np.asarray(val)[sel]
    for s in skip:
        out[np.isclose(wave, s)] = np.nan
    return out

# CIV spectrum
ax1.plot(civ_wave, civ_flux, 'k', lw=2.0)
ax1.plot(civ_err_wave, civ_err, color='gray', lw=1.6)
ax1.plot(civ_cont_wave, civ_cont, 'b', lw=1.6)
ax1.plot(civ_all_wave, civ_all, 'g', lw=1.8)
for w, f in [(siiv1_wave, siiv1), (siiv2_wave, siiv2), (nv_wave, nv), (heii_wave, heii)]:
    ax1.plot(w, f, 'g--', lw=1.6)
for w, f in [(civ_br_wave, civ_br), (civ_n1_wave, civ_n1), (civ_n2_wave, civ_n2)]:
    ax1.plot(w, f, 'r--', lw=1.6)
ax1.plot(civ_line_wave, civ_line, 'r', lw=1.8)
ax1.text(0.978, 0.931, 'CIV', transform=ax1.transAxes, ha='right', va='center', fontsize=14.5)
ax1.set_ylim(6.04, 15.32)
ax1.set_yticks([8, 10, 12, 14])
ax1.set_ylabel(r'f$_{\lambda,\rm\ obs}$ (10$^{-17}$erg s$^{-1}$ cm$^{-2}$ $\rm\AA^{-1}$)', fontsize=16)
plt.setp(ax1.get_xticklabels(), visible=False)

# CIV residual
ax2.plot(civ_res_wave, civ_res, color='#1f77b4', lw=1.8)
ax2.plot(civ_res_wave, window_series(civ_res_wave, civ_res, civ_green_win, civ_res_skip), 'g', lw=1.8)
ax2.plot(civ_res_wave, window_series(civ_res_wave, civ_res, civ_red_win, civ_res_skip), 'r', lw=1.8)
ax2.plot([1300, 1750], [0, 0], 'k', lw=1.5)
ax2.plot([1300, 1750], [3, 3], 'k--', lw=1.5)
ax2.plot([1300, 1750], [-3, -3], 'k--', lw=1.5)
ax2.set_ylim(-9.65, 9.65)
ax2.set_yticks([-5, 0, 5])
ax2.set_xlim(1277.5, 1772.5)
ax2.set_xticks([1300, 1400, 1500, 1600, 1700])
ax2.set_ylabel(r'Residual ($\sigma$)', fontsize=16)

# MgII spectrum
ax3.plot(mg_wave, mg_flux, 'k', lw=2.0, label='Data')
ax3.plot(mg_err_wave, mg_err, color='gray', lw=1.6)
ax3.plot(mg_pl_wave, mg_pl, color='orange', lw=1.6, label='Power-law')
ax3.plot(mg_pseudo_wave, mg_pseudo, 'b', lw=1.6, label='Pseudo-Continuum')
for w, f in [(mg_br_wave, mg_br), (mg_n1_wave, mg_n1), (mg_n2_wave, mg_n2)]:
    ax3.plot(w, f, 'r--', lw=1.6)
ax3.plot(mg_line_wave, mg_line, 'r', lw=1.8, label='Line')
ax3.legend(loc='upper left', fontsize=12)
ax3.text(0.979, 0.931, 'MgII', transform=ax3.transAxes, ha='right', va='center', fontsize=14.5)
ax3.text(0.979, 0.863, 'T06', transform=ax3.transAxes, ha='right', va='center', fontsize=14.5, color='b')
ax3.set_ylim(2.68, 8.25)
ax3.set_yticks([3, 4, 5, 6, 7, 8])
plt.setp(ax3.get_xticklabels(), visible=False)

# MgII residual
ax4.plot(mg_res_wave, mg_res, color='#1f77b4', lw=1.8)
ax4.plot(mg_res_wave, window_series(mg_res_wave, mg_res, mg_red_win), 'r', lw=1.8)
ax4.plot([2500, 3100], [0, 0], 'k', lw=1.5)
ax4.plot([2500, 3100], [3, 3], 'k--', lw=1.5)
ax4.plot([2500, 3100], [-3, -3], 'k--', lw=1.5)
masked = [w for w in mg_res_wave if w <= mg_masked_end]
ax4.plot(masked, [6.0] * len(masked), 'o', color='gray', ms=7, zorder=5)
ax4.set_ylim(-7.05, 7.05)
ax4.set_yticks([-5, 0, 5])
ax4.set_xlim(2470, 3130)
ax4.set_xticks([2500, 2600, 2700, 2800, 2900, 3000, 3100])

fig.suptitle(r'BR J0714-6455, $z = 4.465$', y=0.97, va='center', fontsize=18.5)
fig.supxlabel('Rest Wavelength (Å)', y=0.033, va='center', fontsize=15.5)

fig.savefig('out.png', dpi=100)
